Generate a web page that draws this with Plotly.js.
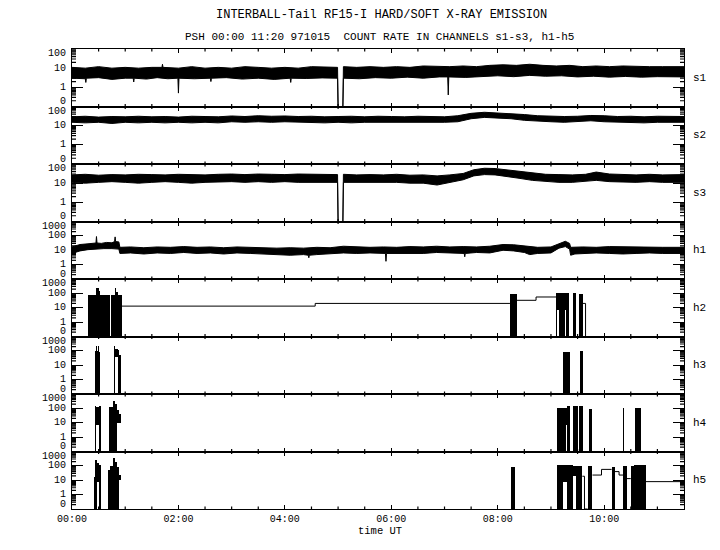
<!DOCTYPE html>
<html><head><meta charset="utf-8">
<script src="https://cdn.plot.ly/plotly-3.0.1.min.js"></script>
<style>html,body{margin:0;padding:0;background:#fff}#chart{width:720px;height:550px}</style>
</head><body><div id="chart"></div>
<script>
// ---------- labels ----------
const channels = ['s1','s2','s3','h1','h2','h3','h4','h5'];
const axisTopDecade = [2,2,2,3,3,3,3,3];          // log10 of top tick per channel
const countTickText = ['0','1','10','100','1000'];
const timeTickVals = [0,2,4,6,8,10];
const timeTickText = ['00:00','02:00','04:00','06:00','08:00','10:00'];
const titleLine1 = 'INTERBALL-Tail RF15-I HARD/SOFT X-RAY EMISSION';
const titleLine2 = 'PSH 00:00 11:20 971015 \u00a0COUNT RATE IN CHANNELS s1-s3, h1-h5';
const xTitle = 'time UT';

// ---------- noisy channels: envelope of the count rate (upper / lower edge) vs time [h] ----------
const s1HiT = [0,.25,.5,.75,1,1.25,1.5,1.69,1.7,1.71,2,2.25,2.5,2.75,3,3.25,3.5,3.75,4,4.25,4.5,4.75,4.99,5,5.09,5.1,5.35,5.6,5.85,6.1,6.35,6.6,6.85,7.1,7.35,7.6,7.85,8.1,8.35,8.6,8.85,9.1,9.35,9.6,9.85,10.1,10.35,10.6,10.85,11.1,11.5];
const s1Hi  = [11,10,12,10,11,10,11,11,16,11,10,12,10,11,10,12,11,10,11,10,12,11,11,0,0,12,11,12,11,12,11,13,12,12,13,12,14,15,14,16,14,13,14,12,13,12,13,12,12,12,12];
const s1LoT = [0,.25,.26,.27,.5,.75,1,1.15,1.16,1.17,1.4,1.6,1.8,1.99,2.0,2.01,2.3,2.6,2.61,2.62,2.9,3.2,3.5,3.8,4.1,4.11,4.12,4.4,4.7,4.99,5,5.09,5.1,5.4,5.7,6.0,6.3,6.6,6.9,7.06,7.07,7.08,7.4,7.7,8.0,8.3,8.6,8.9,9.2,9.5,9.8,10.1,10.4,10.7,11.0,11.5];
const s1Lo  = [3,2.8,1.8,3,3.2,2.6,3,3,1.9,3,2.7,3.2,2.8,3,0.5,3,2.8,3,2,3,3.2,2.7,3,2.6,3,1.8,3,2.9,3.1,3,0,0,3,2.8,3.2,3,3.4,3,3.5,3.5,0.4,3.5,3.3,3.8,4,3.6,4.2,3.8,4,3.5,3.8,3.4,3.7,3.4,3.6,3.5];

const s2T  = [0,.25,.5,.75,1,1.25,1.5,1.75,2,2.25,2.5,2.75,3,3.25,3.5,3.75,4,4.25,4.5,4.75,5,5.25,5.5,5.75,6,6.25,6.5,6.75,7,7.25,7.5,7.75,8,8.25,8.5,8.75,9,9.25,9.5,9.75,10,10.25,10.5,10.75,11,11.25,11.5];
const s2Hi = [29,31,28,30,29,31,29,30,28,31,30,29,32,30,33,31,32,30,31,29,30,31,29,31,30,29,31,30,29,33,44,50,47,44,38,33,31,30,31,34,33,30,31,29,31,30,30];
const s2Lo = [15,14,15,13,15,14,15,14,15,14,15,14,16,15,16,15,16,15,15,14,15,14,15,15,14,15,15,14,15,16,23,27,25,23,19,17,16,15,16,18,16,15,15,14,15,15,15];

const s3T  = [0,.25,.5,.75,1,1.25,1.5,1.75,2,2.25,2.5,2.75,3,3.25,3.5,3.75,4,4.25,4.5,4.75,4.99,5,5.09,5.1,5.35,5.6,5.85,6.1,6.35,6.6,6.86,7.1,7.35,7.55,7.75,7.95,8.15,8.4,8.65,8.9,9.15,9.4,9.65,9.85,10.1,10.35,10.6,10.85,11.1,11.5];
const s3Hi = [27,29,26,28,27,29,28,27,29,28,27,29,30,28,30,29,28,30,29,28,28,0,0,29,27,28,27,29,26,27,24,27,32,50,60,58,50,42,33,29,28,27,29,38,30,28,27,29,27,28];
const s3Lo = [11,10,11,12,11,10,11,12,11,10,11,12,12,11,12,11,12,11,11,12,11,0,0,11,11,12,11,11,10,10,8,11,15,24,28,27,23,18,14,12,11,11,12,14,12,11,11,12,11,11];

const h1HiT = [0,.15,.3,.4,.45,.46,.47,.55,.65,.75,.8,.81,.82,.88,.9,1.1,1.35,1.6,1.85,2.1,2.35,2.6,2.85,3.1,3.35,3.6,3.85,4.1,4.35,4.6,4.85,5.1,5.35,5.6,5.85,6.1,6.35,6.6,6.85,7.1,7.35,7.6,7.85,8.1,8.3,8.5,8.75,9.0,9.15,9.27,9.35,9.37,9.6,9.85,10.1,10.35,10.6,10.85,11.1,11.5];
const h1Hi  = [17,25,28,30,32,90,32,30,35,33,40,85,40,38,16,17,15,17,16,18,16,17,15,17,16,15,14,15,14,16,15,19,17,16,17,16,18,17,19,17,18,17,19,25,24,20,16,17,28,42,30,16,17,16,18,17,16,17,16,16];
const h1LoT = [0,.15,.3,.4,.6,.75,.88,.9,1.1,1.35,1.6,1.85,2.1,2.35,2.6,2.85,3.1,3.35,3.6,3.85,4.1,4.35,4.44,4.45,4.46,4.6,4.85,5.1,5.35,5.6,5.89,5.9,5.91,6.1,6.35,6.6,6.85,7.1,7.37,7.38,7.39,7.6,7.85,8.1,8.3,8.5,8.6,8.75,9.0,9.15,9.27,9.35,9.37,9.45,9.6,9.85,10.1,10.35,10.6,10.85,11.1,11.5];
const h1Lo  = [6,9,11,12,13,13,12,6,6.5,5.5,6.5,6,7,6,6.5,5.5,6.5,6,5.5,4.5,4.5,5,4.5,3,4.5,5,6,6.5,6,6.5,6,1.7,6,6,6.5,6,7,6.5,6,3.5,6,7,6.5,10,9,7,5,6,6.5,14,18,12,4.5,5.5,6,6.5,6,5.5,6,6.5,6,6];

// ---------- burst channels: burst segments (start h, end h, top rate, bottom rate) ----------
const h2BurstStart = [0.295,0.46,0.50,0.53,0.734,0.80,0.83,0.87,8.23,9.10,9.115,9.15,9.26,9.28,9.42,9.52];
const h2BurstEnd   = [0.46,0.50,0.53,0.715,0.80,0.83,0.87,0.935,8.36,9.115,9.15,9.26,9.28,9.34,9.47,9.60];
const h2BurstTop   = [75,220,150,80,80,220,130,80,90,110,110,100,100,100,100,95];
const h2BurstLow   = [0,0,0,0,0,0,0,0,0,0,7,0,7,0,0,0];
const h2LineT = [0.935,4.57,8.23,8.24,8.36,8.72,9.10,9.11,9.60,9.65,11.5];
const h2LineV = [13,20,20,null,33,56,56,null,20,0,0];

const h3BurstStart = [0.43,0.45,0.47,0.49,0.51,0.79,0.81,0.86,0.89,9.23,9.54];
const h3BurstEnd   = [0.45,0.47,0.49,0.51,0.53,0.81,0.86,0.89,0.915,9.355,9.61];
const h3BurstTop   = [100,230,100,230,90,220,130,110,55,90,95];
const h3BurstLow   = [0,0,0,0,0,0,35,0,0,0,0];

const h4BurstStart = [0.433,0.445,0.46,0.50,0.515,0.70,0.77,0.80,0.84,0.88,0.912,9.11,9.29,9.31,9.42,9.53,9.71,10.36,10.58];
const h4BurstEnd   = [0.445,0.46,0.50,0.515,0.54,0.77,0.80,0.84,0.88,0.912,0.92,9.29,9.31,9.36,9.50,9.61,9.78,10.38,10.70];
const h4BurstTop   = [150,290,130,290,150,118,330,200,80,40,40,110,110,140,150,140,85,100,100];
const h4BurstLow   = [0,0,7,0,0,0,0,0,10,10,0,0,7,0,0,0,0,0,0];

const h5BurstStart = [0.414,0.44,0.47,0.50,0.683,0.71,0.77,0.81,0.85,0.88,0.912,8.24,9.11,9.22,9.30,9.42,9.47,9.69,10.14,10.36,10.50,10.56];
const h5BurstEnd   = [0.44,0.47,0.50,0.54,0.71,0.77,0.81,0.85,0.88,0.912,0.92,8.33,9.22,9.30,9.42,9.47,9.59,9.78,10.20,10.42,10.56,10.78];
const h5BurstTop   = [18,250,150,120,52,98,370,195,90,25,25,88,115,110,110,100,105,98,80,98,100,115];
const h5BurstLow   = [0,0,8,0,0,0,0,0,0,10,0,0,0,8,0,20,0,0,0,0,0,0];
const h5LineT = [9.59,9.63,9.69,9.70,9.78,9.95,10.14,10.15,10.20,10.28,10.36,10.37,10.42,10.50,10.51,10.78,11.5];
const h5LineV = [19,0,0,null,23,57,57,null,40,23,23,null,13,13,null,8,8];

// ---------- build ----------
const FONT = 'Liberation Mono, DejaVu Sans Mono, monospace';
const NP = channels.length;
const PLOT_W = 612, PANEL_H = 460 / NP, T_MAX = 11.5;
const f = v => (v === null ? null : (v <= 0.1 ? -1 : Math.log10(v)));
const sfx = k => (k === 1 ? '' : String(k));
const traces = [];

function band(TLo, Lo, THi, Hi, k) {
  const common = {xaxis: 'x' + sfx(k), yaxis: 'y' + sfx(k), type: 'scatter', mode: 'lines',
                  line: {color: '#000', width: 1}, hoverinfo: 'skip', showlegend: false};
  traces.push(Object.assign({}, common, {x: TLo, y: Lo.map(f)}));
  traces.push(Object.assign({}, common, {x: THi, y: Hi.map(f), fill: 'tonexty', fillcolor: '#000'}));
}
function bursts(S, E, Top, Low, k) {
  traces.push({
    type: 'bar', xaxis: 'x' + sfx(k), yaxis: 'y' + sfx(k),
    x: S.map((s, i) => (s + E[i]) / 2),
    width: S.map((s, i) => E[i] - s),
    base: Low.map(f),
    y: Top.map((t, i) => f(t) - f(Low[i])),
    marker: {color: '#000', line: {width: 0}}, hoverinfo: 'skip', showlegend: false
  });
}
function stepLine(T, V, k) {
  traces.push({type: 'scatter', mode: 'lines', xaxis: 'x' + sfx(k), yaxis: 'y' + sfx(k),
    x: T, y: V.map(f), connectgaps: false, line: {shape: 'hv', color: '#000', width: 1},
    hoverinfo: 'skip', showlegend: false});
}

band(s1LoT, s1Lo, s1HiT, s1Hi, 1);
band(s2T, s2Lo, s2T, s2Hi, 2);
band(s3T, s3Lo, s3T, s3Hi, 3);
band(h1LoT, h1Lo, h1HiT, h1Hi, 4);
bursts(h2BurstStart, h2BurstEnd, h2BurstTop, h2BurstLow, 5);
stepLine(h2LineT, h2LineV, 5);
bursts(h3BurstStart, h3BurstEnd, h3BurstTop, h3BurstLow, 6);
bursts(h4BurstStart, h4BurstEnd, h4BurstTop, h4BurstLow, 7);
bursts(h5BurstStart, h5BurstEnd, h5BurstTop, h5BurstLow, 8);
stepLine(h5LineT, h5LineV, 8);

const layout = {
  width: 720, height: 550,
  margin: {l: 72, r: 36, t: 49, b: 41, pad: 0},
  paper_bgcolor: '#fff', plot_bgcolor: '#fff',
  showlegend: false, barmode: 'overlay', bargap: 0,
  font: {family: FONT, size: 10, color: '#000'},
  annotations: []
};

// minor time ticks every 30 min
const xMinor = [];
for (let t = 0.5; t < T_MAX; t += 0.5) if (t % 2 !== 0) xMinor.push(t);

channels.forEach((name, i) => {
  const k = i + 1, s = sfx(k);
  const top = axisTopDecade[i];
  const majors = [], minors = [];
  for (let d = -1; d <= top; d++) majors.push(d);
  for (let d = -1; d < top; d++) for (let m = 2; m <= 9; m++) minors.push(d + Math.log10(m));
  const dom = [1 - (i + 1) / NP, 1 - i / NP];

  // axes: native (crisp) major ticks, mirrored to the opposite side
  layout['xaxis' + s] = {
    domain: [0, 1], anchor: 'y' + s, range: [0, T_MAX],
    tickmode: 'array', tickvals: timeTickVals, ticktext: timeTickText,
    ticks: 'inside', ticklen: 4, tickwidth: 1, tickcolor: '#000',
    showline: true, linecolor: '#000', linewidth: 1, mirror: 'allticks',
    showgrid: false, zeroline: false, fixedrange: true,
    showticklabels: i === NP - 1,
    tickfont: {family: FONT, size: 10, color: '#000'}
  };
  layout['yaxis' + s] = {
    domain: dom, anchor: 'x' + s, range: [-1, top],
    tickmode: 'array', tickvals: majors,
    ticks: 'inside', ticklen: 11, tickwidth: 1, tickcolor: '#000',
    showline: true, linecolor: '#000', linewidth: 1, mirror: 'allticks',
    showgrid: false, zeroline: false, fixedrange: true, showticklabels: false
  };

  // short inward minor ticks (30-min time ticks, log 2..9 count ticks), scaled from pixel lengths
  const yPerPx = (top + 1) / PANEL_H, xPerPx = T_MAX / PLOT_W;
  const tx = [], ty = [];
  xMinor.forEach(t => {
    tx.push(t, t, null, t, t, null);
    ty.push(-1, -1 + 2.5 * yPerPx, null, top, top - 2.5 * yPerPx, null);
  });
  minors.forEach(v => {
    tx.push(0, 4 * xPerPx, null, T_MAX, T_MAX - 4 * xPerPx, null);
    ty.push(v, v, null, v, v, null);
  });
  traces.push({type: 'scatter', mode: 'lines', xaxis: 'x' + s, yaxis: 'y' + s, x: tx, y: ty,
               connectgaps: false, line: {color: '#000', width: 1.2},
               hoverinfo: 'skip', showlegend: false});

  // count-rate tick labels (end labels pulled inward as in the original plot)
  majors.forEach((v, j) => {
    const shift = j === 0 ? 5 : (j === majors.length - 1 ? -4.5 : 0);
    layout.annotations.push({
      text: countTickText[v + 1], xref: 'paper', yref: 'y' + s, x: 0, y: v,
      xanchor: 'right', yanchor: 'middle', xshift: -4, yshift: shift, showarrow: false,
      font: {family: FONT, size: 10, color: '#000'}
    });
  });

  layout.annotations.push({
    text: name, xref: 'paper', yref: 'paper', x: 1.026, y: (dom[0] + dom[1]) / 2,
    xanchor: 'center', yanchor: 'middle', showarrow: false,
    font: {family: FONT, size: 11, color: '#000'}
  });
});

layout.annotations.push(
  {text: titleLine1, xref: 'paper', yref: 'paper', x: 0.505, y: 1.0739, xanchor: 'center', yanchor: 'middle',
   showarrow: false, font: {family: FONT, size: 12, color: '#000'}},
  {text: titleLine2, xref: 'paper', yref: 'paper', x: 0.503, y: 1.026, xanchor: 'center', yanchor: 'middle',
   showarrow: false, font: {family: FONT, size: 11, color: '#000'}},
  {text: xTitle, xref: 'paper', yref: 'paper', x: 0.503, y: -0.0478, xanchor: 'center', yanchor: 'middle',
   showarrow: false, font: {family: FONT, size: 10.5, color: '#000'}}
);

Plotly.newPlot('chart', traces, layout, {staticPlot: true, displayModeBar: false});
</script>
</body></html>
